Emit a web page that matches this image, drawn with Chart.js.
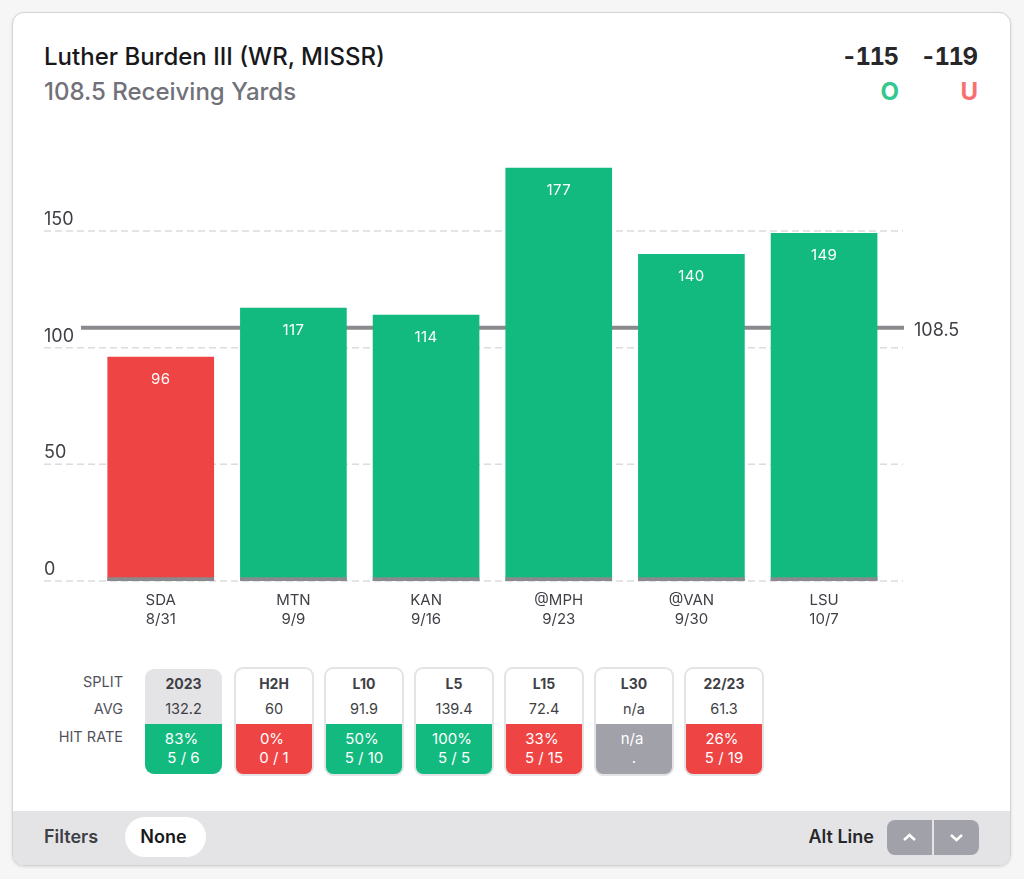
<!DOCTYPE html>
<html>
<head>
<meta charset="utf-8">
<title>Luther Burden III</title>
<script src="https://cdn.jsdelivr.net/npm/chart.js@4"></script>
<style>
  html, body { margin: 0; padding: 0; background: #f6f6f6; width: 1024px; height: 879px; overflow: hidden; font-family: Inter, sans-serif; }
  .abs { position: absolute; white-space: nowrap; }
  #card { position: absolute; left: 12px; top: 12px; width: 997px; height: 852px; background: #fff; border: 1px solid #d4d4d8; border-radius: 12px; box-shadow: 0 1px 3px rgba(0,0,0,.12); overflow: hidden; }
  #footer { position: absolute; left: 0; bottom: 0; width: 100%; height: 54px; background: #e4e4e7; }
  #chartBox { position: absolute; left: 44px; top: 140px; }
  .rowLabel { position: absolute; right: 901px; width: 100px; text-align: right; font-size: 14.5px; line-height: 18px; color: #52525b; }
  .split { position: absolute; top: 667px; width: 76px; height: 105px; border: 2px solid #e4e4e7; border-radius: 9px; overflow: hidden; text-align: center; background: #fff; }
  .split.active { background: #e4e4e7; border: 0; width: 77px; margin-left: 1px; margin-top: 2px; }
  .split .name { position: absolute; top: 6px; width: 100%; font-size: 14px; line-height: 18px; font-weight: 700; color: #3f3f46; }
  .split .avg { position: absolute; top: 31px; width: 100%; font-size: 14.5px; line-height: 18px; color: #3f3f46; }
  .split .hit { position: absolute; top: 55px; left: 0; width: 100%; height: 50px; color: #fff; font-size: 15px; line-height: 19px; }
  .split .pct { position: absolute; top: 5px; left: -2px; width: 100%; }
  .split .cnt { position: absolute; top: 24px; width: 100%; }
  #pill { position: absolute; left: 125px; top: 817px; width: 77px; padding-right: 4px; height: 40px; border-radius: 20px; background: #fff; text-align: center; line-height: 40px; font-size: 18px; font-weight: 600; color: #18181b; }
  .btn { position: absolute; top: 820px; width: 45px; height: 35px; background: #a1a1aa; }
  .odds { font-size: 24px; line-height: 32px; font-weight: 700; color: #27272a; font-variant-numeric: tabular-nums; letter-spacing: -1.5px; }
</style>
</head>
<body>
<div id="card"><div id="footer"></div></div>

<div class="abs" style="left:44px;top:41px;font-size:24px;line-height:32px;font-weight:500;color:#18181b">Luther Burden III (WR, MISSR)</div>
<div class="abs" style="left:44px;top:76px;font-size:24px;line-height:32px;font-weight:500;color:#71717a">108.5 Receiving Yards</div>
<div class="abs odds" style="right:126.500px;top:41px">-115</div>
<div class="abs odds" style="right:47.500px;top:41px">-119</div>
<div class="abs" style="right:125px;top:76px;font-size:24px;line-height:32px;font-weight:700;color:#34c78f">O</div>
<div class="abs" style="right:46px;top:76px;font-size:24px;line-height:32px;font-weight:700;color:#f87171">U</div>

<div id="chartBox"><canvas id="propChart" width="930" height="500"></canvas></div>

<div class="rowLabel" style="top:673px">SPLIT</div>
<div class="rowLabel" style="top:700px">AVG</div>
<div class="rowLabel" style="top:728px">HIT RATE</div>
<div id="splits"></div>

<div class="abs" style="left:44px;top:826px;font-size:18px;line-height:22px;font-weight:600;color:#3f3f46">Filters</div>
<div id="pill">None</div>
<div class="abs" style="right:150px;top:826px;font-size:18px;line-height:22px;font-weight:600;color:#27272a">Alt Line</div>
<div class="btn" style="left:887px;border-radius:8px 0 0 8px"><svg width="45" height="35"><path d="M17 20 L22.500 15 L28 20" fill="none" stroke="#fff" stroke-width="2.500"/></svg></div>
<div class="btn" style="left:934px;border-radius:0 8px 8px 0"><svg width="45" height="35"><path d="M17 15 L22.500 20 L28 15" fill="none" stroke="#fff" stroke-width="2.500"/></svg></div>

<script>
const opponents = ["SDA", "MTN", "KAN", "@MPH", "@VAN", "LSU"];
const gameDates = ["8/31", "9/9", "9/16", "9/23", "9/30", "10/7"];
const yards = [96, 117, 114, 177, 140, 149];
const baseStub = [1.5, 1.5, 1.5, 1.5, 1.5, 1.5];
const propLine = 108.5;
const yTicks = [0, 50, 100, 150];

const splitNames = ["2023", "H2H", "L10", "L5", "L15", "L30", "22/23"];
const splitAvgs = ["132.2", "60", "91.9", "139.4", "72.4", "n/a", "61.3"];
const hitPcts = ["83%", "0%", "50%", "100%", "33%", "n/a", "26%"];
const hitCounts = ["5 / 6", "0 / 1", "5 / 10", "5 / 5", "5 / 15", ".", "5 / 19"];

const GREEN = "#13ba80";
const RED = "#ef4444";
const STUB = "#8a8a8e";
const TEXT = "#3f3f46";

// grid + prop line sit behind the bars and run wider than the category area
const backdrop = {
  id: "backdrop",
  beforeDatasetsDraw(chart) {
    const c = chart.ctx;
    const y = chart.scales.y;
    c.save();
    c.strokeStyle = "#dcdcdf";
    c.lineWidth = 1.5;
    c.setLineDash([7, 4]);
    yTicks.forEach(t => {
      c.beginPath();
      c.moveTo(0, y.getPixelForValue(t));
      c.lineTo(859, y.getPixelForValue(t));
      c.stroke();
    });
    c.setLineDash([]);
    c.strokeStyle = "#8a8a8e";
    c.lineWidth = 4;
    c.beginPath();
    c.moveTo(37, y.getPixelForValue(propLine));
    c.lineTo(860, y.getPixelForValue(propLine));
    c.stroke();
    c.fillStyle = TEXT;
    c.font = "18px Inter";
    c.textAlign = "left";
    c.textBaseline = "middle";
    c.fillText(String(propLine), 870, y.getPixelForValue(propLine) + 3);
    c.restore();
  }
};

const barValues = {
  id: "barValues",
  afterDatasetsDraw(chart) {
    const c = chart.ctx;
    c.save();
    c.fillStyle = "#fff";
    c.font = "15px Inter";
    c.letterSpacing = "0.4px";
    c.textAlign = "center";
    c.textBaseline = "middle";
    chart.getDatasetMeta(0).data.forEach((bar, i) => {
      c.fillText(String(yards[i]), bar.x, bar.y + 22);
    });
    c.restore();
  }
};

new Chart(document.getElementById("propChart").getContext("2d"), {
  type: "bar",
  data: {
    labels: opponents.map((o, i) => [o, gameDates[i]]),
    datasets: [
      {
        label: "Receiving Yards",
        data: yards,
        backgroundColor: yards.map(v => v > propLine ? GREEN : RED),
        barThickness: 106,
        grouped: false,
        order: 2
      },
      {
        label: "Base",
        data: baseStub,
        backgroundColor: STUB,
        barThickness: 106,
        grouped: false,
        order: 1
      }
    ]
  },
  options: {
    responsive: false,
    animation: false,
    layout: { padding: { top: 21, right: 83.6, bottom: 0, left: 0 } },
    plugins: { legend: { display: false }, tooltip: { enabled: false } },
    scales: {
      x: {
        grid: { display: false },
        border: { display: false },
        afterFit(scale) { scale.height = 59; },
        ticks: {
          color: TEXT,
          font: { family: "Inter", size: 15, lineHeight: 1.27 },
          padding: 2,
          maxRotation: 0,
          autoSkip: false
        }
      },
      y: {
        min: 0,
        max: 180,
        grid: { display: false },
        border: { display: false },
        afterFit(scale) { scale.width = 50.4; },
        ticks: {
          stepSize: 50,
          includeBounds: false,
          color: TEXT,
          font: { family: "Inter", size: 18 },
          crossAlign: "far",
          labelOffset: -11.5,
          padding: 0
        }
      }
    }
  },
  plugins: [backdrop, barValues]
});

// split table under the chart
const box = document.getElementById("splits");
splitNames.forEach((name, i) => {
  const left = 144 + i * 90;
  const pct = parseFloat(hitPcts[i]);
  const fill = isNaN(pct) ? "#a1a1aa" : pct >= 50 ? GREEN : RED;
  const el = document.createElement("div");
  el.className = "split" + (i === 0 ? " active" : "");
  el.style.left = left + "px";
  el.innerHTML =
    '<div class="name">' + name + '</div>' +
    '<div class="avg">' + splitAvgs[i] + '</div>' +
    '<div class="hit" style="background:' + fill + '">' +
    '<div class="pct">' + hitPcts[i] + '</div>' +
    '<div class="cnt">' + hitCounts[i] + '</div></div>';
  box.appendChild(el);
});
</script>
</body>
</html>
